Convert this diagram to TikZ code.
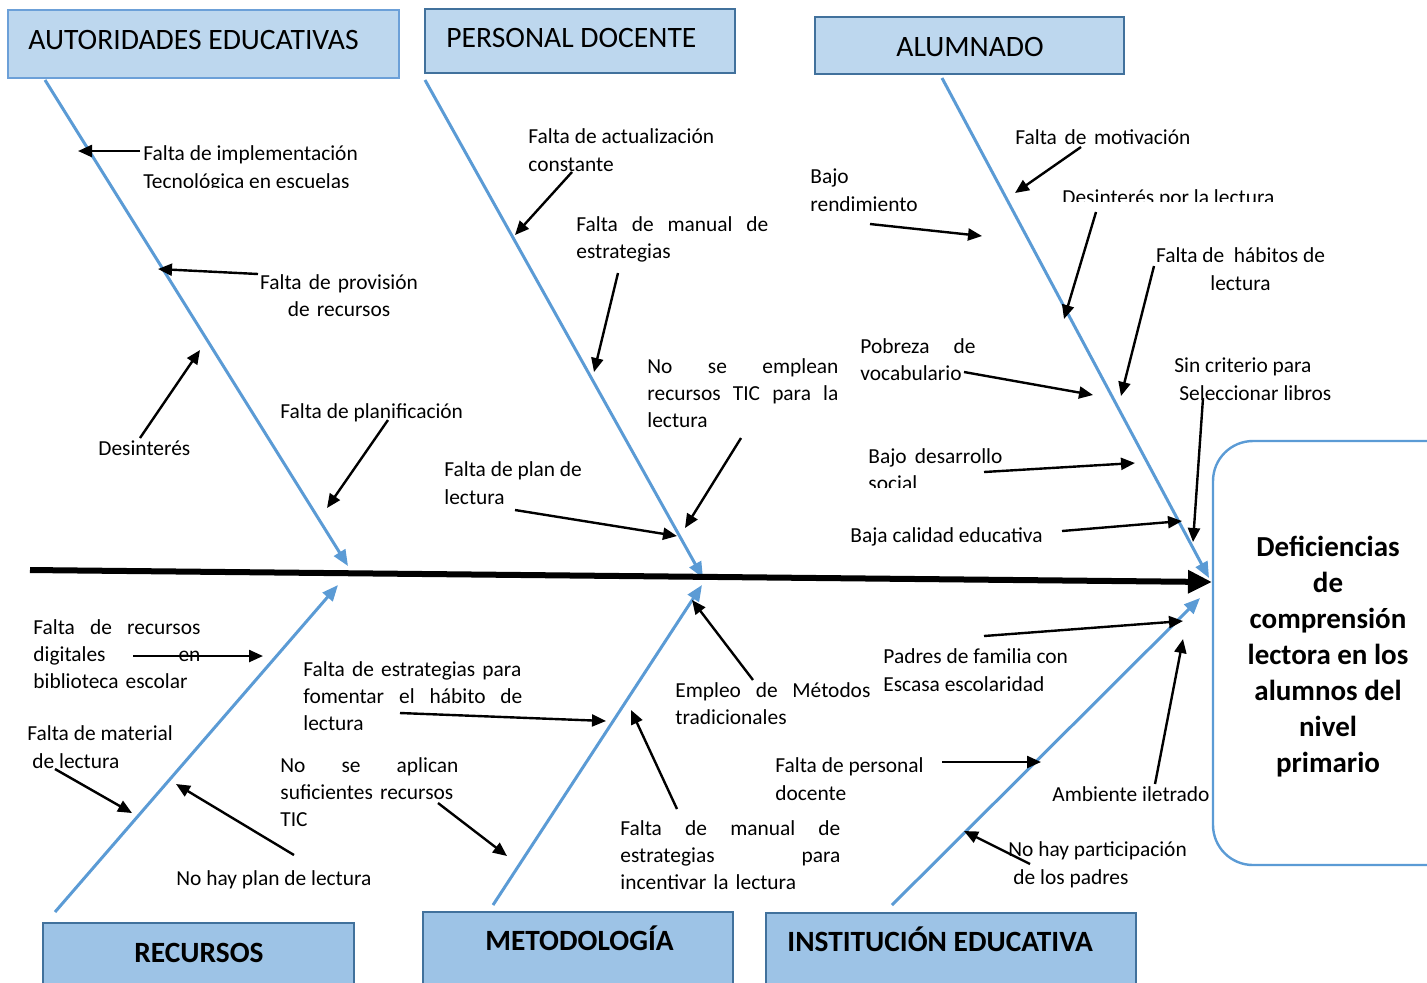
\documentclass[tikz,border=0pt]{standalone}
\usepackage{fontspec}
\setmainfont{Carlito}
\usetikzlibrary{arrows.meta}

\definecolor{cajaclara}{RGB}{189,215,238}
\definecolor{cajaoscura}{RGB}{157,195,230}
\definecolor{bordecaja}{RGB}{65,113,156}
\definecolor{bordeclaro}{RGB}{108,160,216}
\definecolor{espinaazul}{RGB}{91,155,213}

\tikzset{
  causa/.style={inner sep=0pt, anchor=base west, align=left, yshift=-1pt, font=\fontsize{10.7}{13.6}\selectfont},
  flecha/.style={line width=1.2pt, -{Triangle[length=7pt,width=6pt]}},
  espina/.style={draw=espinaazul, line width=1.5pt, -{Triangle[length=8pt,width=6.5pt]}},
  columna/.style={line width=3pt, -{Triangle[length=12pt,width=11pt]}},
  cajasup/.style={draw=bordecaja, fill=cajaclara, line width=1pt, inner sep=0pt},
  cajainf/.style={draw=bordecaja, fill=cajaoscura, line width=1pt, inner sep=0pt},
  titulo/.style={inner sep=0pt, font=\fontsize{14.8}{17}\selectfont},
  tituloneg/.style={inner sep=0pt, font=\fontsize{14.7}{17}\selectfont\bfseries},
}

\begin{document}
\begin{tikzpicture}[x=0.5pt,y=0.5pt,yscale=-1,xscale=1]
\useasboundingbox (0,0) rectangle (1427,982);
\clip (0,0) rectangle (1427,982);

%Shape: Rectangle (cabeceras)
\node [cajasup, draw=bordeclaro, minimum width=195.5pt, minimum height=34pt] (autoridades) at (203.5,44) {};
\node [cajasup, minimum width=155pt, minimum height=32pt] (docente) at (580,41) {};
\node [cajasup, minimum width=154.5pt, minimum height=28.5pt] (alumnado) at (969.5,45.5) {};
\node [cajainf, minimum width=155.5pt, minimum height=35pt] (recursos) at (198.5,958) {};
\node [cajainf, minimum width=155pt, minimum height=40pt] (metodologia) at (578,952) {};
\node [cajainf, minimum width=185pt, minimum height=40pt] (institucion) at (951,953) {};
%Shape: Rounded Rectangle (efecto)
\node [draw=espinaazul, line width=1.2pt, rounded corners=20pt, inner sep=0pt, minimum width=128.5pt, minimum height=212pt] (efecto) at (1341.5,653) {};

% Text Node
\node [titulo, anchor=base west] (autoridadestxt) at (28,49) {AUTORIDADES EDUCATIVAS};
% Text Node
\node [titulo, anchor=base west] (docentetxt) at (446,47) {PERSONAL DOCENTE};
% Text Node
\node [titulo, anchor=base] (alumnadotxt) at (970,56) {ALUMNADO};
% Text Node
\node [tituloneg, anchor=base] (recursostxt) at (199,962) {RECURSOS};
% Text Node
\node [tituloneg, anchor=base west] (metodologiatxt) at (485,950) {METODOLOGÍA};
% Text Node
\node [tituloneg, anchor=base west] (instituciontxt) at (787,951) {INSTITUCIÓN EDUCATIVA};
% Text Node
\node [inner sep=0pt, align=center, font=\fontsize{14.5}{18}\selectfont\bfseries] (efectotxt) at (1328,657) {Deficiencias\\de\\comprensión\\lectora en los\\alumnos del\\nivel\\primario};

%Straight Lines (espinas y columna)
\coordinate (e1a) at (45,80);   \coordinate (e1b) at (348,566);
\coordinate (e2a) at (425,80);  \coordinate (e2b) at (703,578);
\coordinate (e3a) at (942,78);  \coordinate (e3b) at (1209,578);
\coordinate (e4a) at (55,912);  \coordinate (e4b) at (338,585);
\coordinate (e5a) at (493,905); \coordinate (e5b) at (702,585);
\coordinate (e6a) at (892,905); \coordinate (e6b) at (1200,598);
\coordinate (cola) at (30,570);  \coordinate (cabeza) at (1212,582);
\draw [espina] (e1a) -- (e1b);
\draw [espina] (e2a) -- (e2b);
\draw [espina] (e3a) -- (e3b);
\draw [espina] (e4a) -- (e4b);
\draw [espina] (e5a) -- (e5b);
\draw [espina] (e6a) -- (e6b);
\draw [columna] (cola) -- (cabeza);

% ---- AUTORIDADES EDUCATIVAS
% Text Node
\begin{scope}
\clip (130,130) rectangle (380,187);
\node [causa] (implementacion) at (143,186) {Falta de implementación\\Tecnológica en escuelas};
\end{scope}
% Text Node
\node [causa, anchor=base, align=center, text width=84pt] (provision) at (339,287) {Falta de provisión\\de recursos};
% Text Node
\node [causa] (desinteres) at (98,453) {Desinterés};
% Text Node
\node [causa] (planificacion) at (280,416) {Falta de planificación};

% ---- PERSONAL DOCENTE
% Text Node
\node [causa] (actualizacion) at (528,169) {Falta de actualización\\constante};
% Text Node
\node [causa, text width=96pt] (manual) at (576,229) {Falta\hfill de\hfill manual\hfill de\\estrategias};
% Text Node
\node [causa, text width=95.5pt] (emplean) at (647,371) {No\hfill se\hfill emplean\\recursos\hfill TIC\hfill para\hfill la\\lectura};
% Text Node
\node [causa] (plan) at (444,502) {Falta de plan de\\lectura};

% ---- ALUMNADO
% Text Node
\node [causa, text width=87.5pt] (motivacion) at (1015,142) {Falta\hfill de\hfill motivación};
% Text Node
\node [causa] (rendimiento) at (810,209) {Bajo\\rendimiento};
% Text Node
\begin{scope}
\clip (1050,180) rectangle (1290,201);
\node [causa] (desinteresl) at (1062,202) {Desinterés por la lectura};
\end{scope}
% Text Node
\node [causa, anchor=base, align=center] (habitos) at (1240.5,288) {Falta de\ \ hábitos de\\lectura};
% Text Node
\node [causa, text width=57.5pt] (pobreza) at (860,351) {Pobreza\hfill de\\vocabulario};
% Text Node
\node [causa] (criterio) at (1174,398) {Sin criterio para\\\hspace*{2.5pt}Seleccionar libros};
% Text Node
\begin{scope}
\clip (855,440) rectangle (1010,487);
\node [causa, text width=67pt] (desarrollo) at (868,461) {Bajo\hfill desarrollo\\social};
\end{scope}
% Text Node
\node [causa] (calidad) at (850,540) {Baja calidad educativa};

% ---- RECURSOS
% Text Node
\node [causa, text width=83.5pt] (digitales) at (33,632) {Falta\hfill de\hfill recursos\\digitales\hfill en\\biblioteca escolar};
% Text Node
\node [causa] (material) at (27,766) {Falta de material\\\hspace*{2.5pt}de lectura};
% Text Node
\node [causa] (noplan) at (176,883) {No hay plan de lectura};

% ---- METODOLOGIA
% Text Node
\node [causa, text width=109.5pt] (fomentar) at (303,674) {Falta de estrategias para\\fomentar\hfill el\hfill hábito\hfill de\\lectura};
% Text Node
\node [causa, text width=89pt] (aplican) at (280,770) {No\hfill se\hfill aplican\\suficientes recursos\\TIC};
% Text Node
\node [causa, text width=97.5pt] (metodos) at (675,695) {Empleo\hfill de\hfill Métodos\\tradicionales};
% Text Node
\node [causa, text width=110pt] (incentivar) at (620,833) {Falta\hfill de\hfill manual\hfill de\\estrategias\hfill para\\incentivar la lectura};

% ---- INSTITUCION EDUCATIVA
% Text Node
\node [causa] (padres) at (883,689) {Padres de familia con\\Escasa escolaridad};
% Text Node
\node [causa] (personal) at (775,798) {Falta de personal\\docente};
% Text Node
\node [causa] (iletrado) at (1052,799) {Ambiente iletrado};
% Text Node
\node [causa] (participacion) at (1008,882) {No hay participación\\\hspace*{2.5pt}de los padres};

%Straight Lines (flechas de causas)
\coordinate (a1t) at (140,151);   \coordinate (a1h) at (78,151);
\coordinate (a2t) at (258,274);   \coordinate (a2h) at (158,269);
\coordinate (a3t) at (140,438);   \coordinate (a3h) at (200,350);
\coordinate (a4t) at (388,420);   \coordinate (a4h) at (327,508);
\coordinate (a5t) at (572,172);   \coordinate (a5h) at (515,235);
\coordinate (a6t) at (618,273);   \coordinate (a6h) at (594,372);
\coordinate (a7t) at (741,438);   \coordinate (a7h) at (685,528);
\coordinate (a8t) at (515,510);   \coordinate (a8h) at (677,536);
\coordinate (a9t) at (1081,147);  \coordinate (a9h) at (1015,193);
\coordinate (a10t) at (870,224);  \coordinate (a10h) at (982,236);
\coordinate (a11t) at (1096,212); \coordinate (a11h) at (1064,319);
\coordinate (a12t) at (1154,266); \coordinate (a12h) at (1121,396);
\coordinate (a13t) at (964,372);  \coordinate (a13h) at (1093,395);
\coordinate (a14t) at (1203,398); \coordinate (a14h) at (1193,542);
\coordinate (a15t) at (984,472);  \coordinate (a15h) at (1135,463);
\coordinate (a16t) at (1062,531); \coordinate (a16h) at (1182,521);
\coordinate (b1t) at (133,656);   \coordinate (b1h) at (263,656);
\coordinate (b2t) at (55,769);    \coordinate (b2h) at (132,813);
\coordinate (b3t) at (294,855);   \coordinate (b3h) at (176,784);
\coordinate (b4t) at (400,713);   \coordinate (b4h) at (606,721);
\coordinate (b5t) at (438,803);   \coordinate (b5h) at (507,856);
\coordinate (b6t) at (753,680);   \coordinate (b6h) at (692,600);
\coordinate (b7t) at (677,809);   \coordinate (b7h) at (631,710);
\coordinate (b8t) at (984,636);   \coordinate (b8h) at (1183,621);
\coordinate (b9t) at (942,762);   \coordinate (b9h) at (1041,762);
\coordinate (b10t) at (1155,784); \coordinate (b10h) at (1183,639);
\coordinate (b11t) at (1030,864); \coordinate (b11h) at (964,831);
\foreach \f in {a1,a2,a3,a4,a5,a6,a7,a8,a9,a10,a11,a12,a13,a14,a15,a16,b1,b2,b3,b4,b5,b6,b7,b8,b9,b10,b11}
  \draw [flecha] (\f t) -- (\f h);

\end{tikzpicture}
\end{document}
